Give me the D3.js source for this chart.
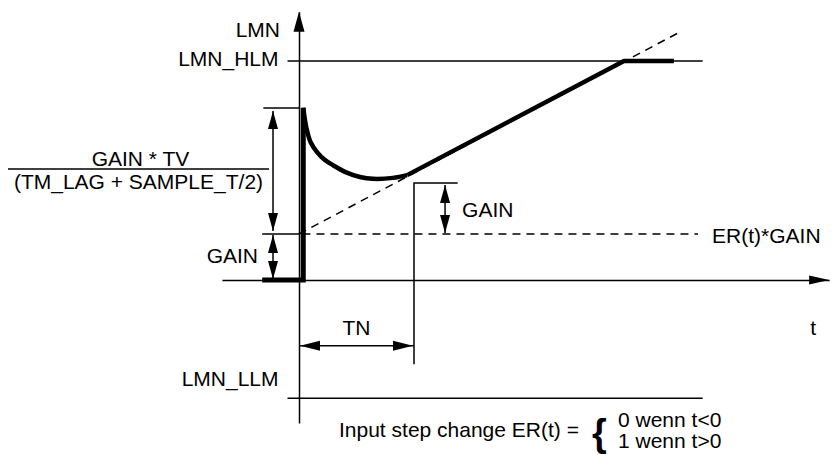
<!DOCTYPE html>
<html>
<head>
<meta charset="utf-8">
<script src="https://cdn.jsdelivr.net/npm/d3@7"></script>
<style>
  body { margin: 0; background: #fff; }
  text { font-family: "Liberation Sans", Arial, sans-serif; font-size: 21px; fill: #000; }
</style>
</head>
<body>
<script>
// units: time in TN, output in GAIN
var TN = 1, GAIN = 1;
var tAxisRange = [-0.67, 4.61];
var lmnAxisRange = [-3.11, 5.83];
var LMN_HLM = 4.76, LMN_LLM = -2.57;
var limitSpan = [-0.10, 3.51];
var peak = 3.74;
var stepOutput = [[-0.32, 0], [0.037, 0], [0.037, 3.745]];
var decayOutput = [[0.037, 3.745], [0.065, 3.30], [0.10, 3.00], [0.157, 2.78], [0.22, 2.62],
                   [0.30, 2.49], [0.41, 2.34], [0.53, 2.24], [0.643, 2.2], [0.817, 2.22], [0.94, 2.28]];
var rampOutput = [[0.94, 2.28], [2.826, 4.76], [3.26, 4.76]];
var rampExtension = [[0, 1], [3.296, 5.37]];
var erGainLine = [[0.03, 1], [3.47, 1]];
var inputStep = [[1, -1.83], [1, 2.11], [1.38, 2.11]];
var tnLevel = -1.43;

var width = 832, height = 455;

var x = d3.scaleLinear().domain([0, TN]).range([299, 414]);
var y = d3.scaleLinear().domain([0, GAIN]).range([280, 234]);

var svg = d3.select('body').append('svg')
    .attr('width', width)
    .attr('height', height);

var line = d3.line()
    .x(function(d) { return x(d[0]); })
    .y(function(d) { return y(d[1]); });

function arrowHead(tx, ty, dir, len, half) {
  var p;
  if (dir === 'up') p = [[tx, ty], [tx - half, ty + len], [tx + half, ty + len]];
  if (dir === 'down') p = [[tx, ty], [tx - half, ty - len], [tx + half, ty - len]];
  if (dir === 'left') p = [[tx, ty], [tx + len, ty - half], [tx + len, ty + half]];
  if (dir === 'right') p = [[tx, ty], [tx - len, ty - half], [tx - len, ty + half]];
  svg.append('path')
    .attr('d', 'M' + p.join('L') + 'Z')
    .attr('fill', '#000');
}

function thin(pts, dash) {
  svg.append('path')
    .attr('d', line(pts))
    .attr('fill', 'none')
    .attr('stroke', '#000')
    .attr('stroke-width', 1.5)
    .attr('stroke-dasharray', dash || null);
}

// axes
var tScale = d3.scaleLinear().domain(tAxisRange).range(tAxisRange.map(x));
var lmnScale = d3.scaleLinear().domain(lmnAxisRange).range(lmnAxisRange.map(y));

svg.append('g')
    .attr('transform', 'translate(0,' + y(0) + ')')
    .call(d3.axisBottom(tScale).tickValues([]).tickSizeOuter(0));
svg.append('g')
    .attr('transform', 'translate(' + x(0) + ',0)')
    .call(d3.axisLeft(lmnScale).tickValues([]).tickSizeOuter(0));
svg.selectAll('.domain').attr('stroke-width', 1.5);

arrowHead(x(tAxisRange[1]), y(0), 'right', 20, 4.5);
arrowHead(x(0), y(lmnAxisRange[1]), 'up', 20, 5.5);

svg.append('text').attr('x', x(tAxisRange[1]) - 16).attr('y', y(0) + 55)
  .attr('text-anchor', 'middle').text('t');
svg.append('text').attr('x', x(0) - 19).attr('y', y(lmnAxisRange[1]) + 25)
  .attr('text-anchor', 'end').text('LMN');

// limits
thin([[limitSpan[0], LMN_HLM], [limitSpan[1], LMN_HLM]]);
thin([[limitSpan[0], LMN_LLM], [limitSpan[1], LMN_LLM]]);
svg.append('text').attr('x', x(limitSpan[0]) - 9).attr('y', y(LMN_HLM) + 5)
  .attr('text-anchor', 'end').text('LMN_HLM');
svg.append('text').attr('x', x(limitSpan[0]) - 9).attr('y', y(LMN_LLM) - 12)
  .attr('text-anchor', 'end').text('LMN_LLM');

// ER(t)*GAIN and ramp
thin([[-0.32, GAIN], [0, GAIN]]);
thin(erGainLine, '8,6');
thin(rampExtension, '8,6');
svg.append('text').attr('x', x(erGainLine[1][0]) + 14).attr('y', y(GAIN) + 9)
  .text('ER(t)*GAIN');

// input step
thin(inputStep);

// controller output
svg.append('path').attr('d', line(stepOutput))
  .attr('fill', 'none').attr('stroke', '#000').attr('stroke-width', 5);
svg.append('path').attr('d', line.curve(d3.curveCatmullRom)(decayOutput))
  .attr('fill', 'none').attr('stroke', '#000').attr('stroke-width', 4.5)
  .attr('stroke-linejoin', 'round');
line.curve(d3.curveLinear);
svg.append('path').attr('d', line(rampOutput))
  .attr('fill', 'none').attr('stroke', '#000').attr('stroke-width', 4.5)
  .attr('stroke-linejoin', 'round');

// dimension arrows
function dimV(px, y1, y2) {
  svg.append('line').attr('x1', px).attr('x2', px).attr('y1', y1).attr('y2', y2)
    .attr('stroke', '#000').attr('stroke-width', 1.5);
  arrowHead(px, y1, 'up', 18, 5);
  arrowHead(px, y2, 'down', 18, 5);
}
var dimX = x(-0.226);
thin([[-0.31, peak], [0, peak]]);
dimV(dimX, y(peak) + 3, y(GAIN) - 3);
dimV(dimX, y(GAIN) + 1, y(0) - 1);
dimV(x(1.27), y(inputStep[1][1]) + 2, y(GAIN) - 1);

svg.append('text').attr('x', dimX - 15).attr('y', y(0) - 17)
  .attr('text-anchor', 'end').text('GAIN');
svg.append('text').attr('x', x(1.27) + 17).attr('y', y(GAIN) - 17)
  .text('GAIN');

// fraction
var fracMid = (y(peak) + y(GAIN)) / 2 - 2;
svg.append('line').attr('x1', 8).attr('x2', dimX - 4)
  .attr('y1', fracMid).attr('y2', fracMid)
  .attr('stroke', '#000').attr('stroke-width', 1.5);
svg.append('text').attr('x', (8 + dimX - 4) / 2 + 2).attr('y', fracMid - 3)
  .attr('text-anchor', 'middle').text('GAIN * TV');
svg.append('text').attr('x', (8 + dimX - 4) / 2).attr('y', fracMid + 20)
  .attr('text-anchor', 'middle').text('(TM_LAG + SAMPLE_T/2)');

// TN
var tnY = y(tnLevel);
svg.append('line').attr('x1', x(0)).attr('x2', x(TN)).attr('y1', tnY).attr('y2', tnY)
  .attr('stroke', '#000').attr('stroke-width', 1.5);
arrowHead(x(0) + 1, tnY, 'left', 20, 5);
arrowHead(x(TN) - 1, tnY, 'right', 20, 5);
svg.append('text').attr('x', (x(0) + x(TN)) / 2).attr('y', tnY - 11)
  .attr('text-anchor', 'middle').text('TN');

// input definition
svg.append('text').attr('x', 339).attr('y', 437).text('Input step change ER(t) =');
svg.append('text').attr('x', 592).attr('y', 446)
  .style('font-size', '38px').style('font-weight', 'bold').text('{');
svg.append('text').attr('x', 618).attr('y', 427).text('0 wenn t<0');
svg.append('text').attr('x', 618).attr('y', 448).text('1 wenn t>0');
</script>
</body>
</html>
